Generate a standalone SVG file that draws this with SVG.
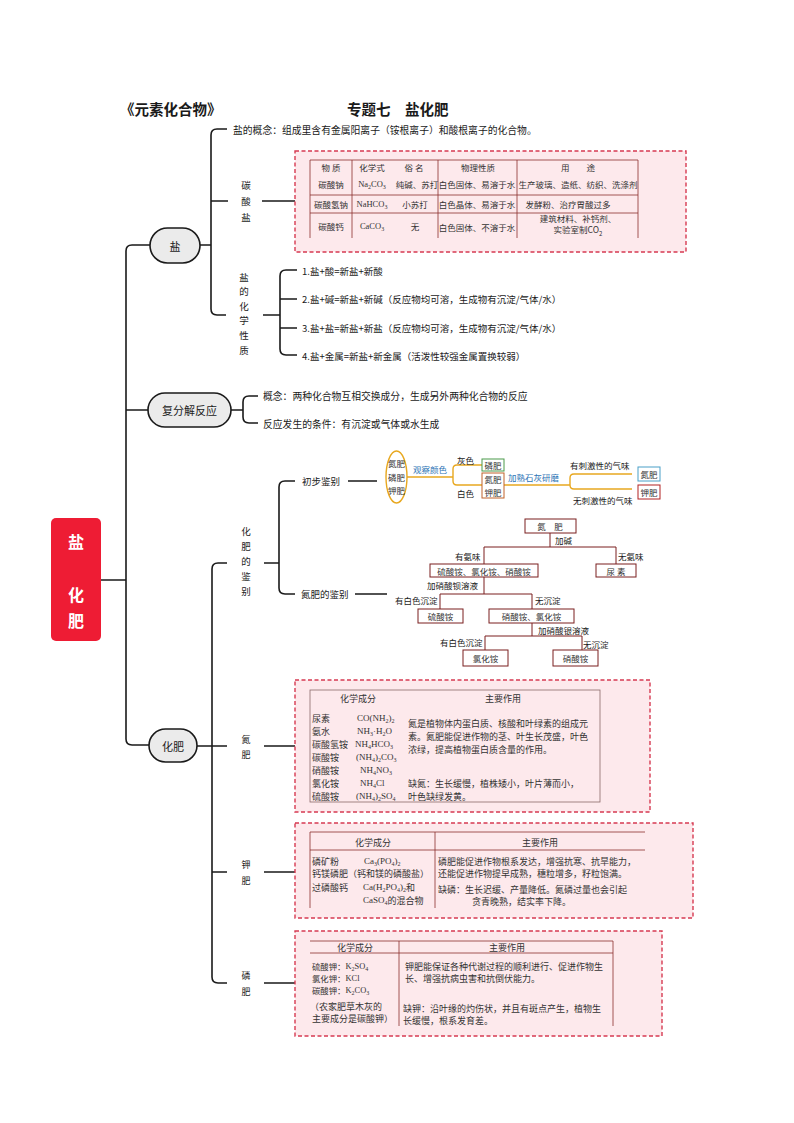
<svg xmlns="http://www.w3.org/2000/svg" width="794" height="1123" viewBox="0 0 794 1123">
<style>
text{font-family:"Noto Sans CJK SC","Noto Sans",sans-serif;fill:#1a1a1a;dominant-baseline:central}
.ser{font-family:"Liberation Serif","Noto Sans CJK SC",serif}
.f95{font-size:9.5px}.f98{font-size:9.8px}.f9{font-size:9px}.f85{font-size:8.5px}.f8{font-size:8.4px}
.g{fill:#333}
.sb{font-size:6px}
.ln{fill:none;stroke:#1a1a1a;stroke-width:1.6}
.gl{fill:none;stroke:#e8a820;stroke-width:1.4}
.tr{fill:none;stroke:#7a1f1f;stroke-width:1}
.bx{fill:#fff;stroke:#7a1f1f;stroke-width:1}
.pill{fill:#ebebeb;stroke:#1a1a1a;stroke-width:1.6}
.dash{fill:#fde9ec;stroke:#d63a52;stroke-width:1.4;stroke-dasharray:4 2.5}
.tb{fill:none;stroke:#8b2f2f;stroke-width:0.8}
.blue{fill:#2e75b6}
</style>
<rect width="794" height="1123" fill="#fff"/>
<g id="title">
<text x="120" y="108" style="font-size:14.5px;font-weight:bold">《元素化合物》</text>
<text x="347" y="108" style="font-size:14.5px;font-weight:bold">专题七　盐化肥</text>
</g>
<g id="connectors">
<path class="ln" d="M101,580 H126 M150,245 H132 Q126,245 126,251 V739 Q126,745 132,745 H150 M126,410 H150"/>
<path class="ln" d="M200,245 H211 M227,129 H217 Q211,129 211,135 V309 Q211,315 217,315 H226 M211,201 H228"/>
<path class="ln" d="M262,201 H295 M263,315 H280 M297,270 H286 Q280,270 280,276 V349 Q280,355 286,355 H297 M280,299 H297 M280,328 H297"/>
<path class="ln" d="M231,410 H243 M258,396 H249 Q243,396 243,402 V417 Q243,423 249,423 H258"/>
<path class="ln" d="M197,746 H212 M227,563 H218 Q212,563 212,569 V977 Q212,983 218,983 H227 M212,746 H227 M212,872 H227"/>
<path class="ln" d="M264,563 H279 M295,481 H285 Q279,481 279,487 V588 Q279,594 285,594 H295"/>
<path class="ln" d="M264,746 H295 M264,872 H295 M264,983 H295 M348,481 H377 M355,594 H387"/>
<path class="gl" d="M407,477 H453 M482,465 H457 Q453,465 453,469 V481 Q453,485 457,485 H482 M504,485 H570 M632,474 H574 Q570,474 570,478 V485 Q570,489 574,489 H632"/>
<path class="tr" d="M550,533 V547 M484,564 V547 H616 V564 M484,577 V594 M440,609 V594 H532 V609 M532,623 V636 M485,650 V636 H582 V650"/>
</g>
<g id="root">
<rect x="51" y="518" width="50" height="123" rx="5" fill="#ee1c34"/>
<text x="76" y="541" text-anchor="middle" style="font-size:16px;font-weight:bold;fill:#fff">盐</text>
<text x="76" y="594" text-anchor="middle" style="font-size:16px;font-weight:bold;fill:#fff">化</text>
<text x="76" y="620" text-anchor="middle" style="font-size:16px;font-weight:bold;fill:#fff">肥</text>
</g>
<g id="node-yan">
<rect class="pill" x="150" y="228" width="50" height="35" rx="17.5"/>
<text x="175" y="245.5" text-anchor="middle" style="font-size:11px">盐</text>
</g>
<g id="node-fufenjie">
<rect class="pill" x="148" y="393" width="83" height="34" rx="17"/>
<text x="189.5" y="410" text-anchor="middle" style="font-size:11px">复分解反应</text>
</g>
<g id="node-huafei">
<rect class="pill" x="149" y="729" width="48" height="33" rx="16.5"/>
<text x="173" y="745.5" text-anchor="middle" style="font-size:11px">化肥</text>
</g>
<g id="salt-concept">
<text x="233" y="130" class="f98">盐的概念：组成里含有金属阳离子（铵根离子）和酸根离子的化合物。</text>
</g>
<g id="carbonate-label">
<text x="246" y="185" text-anchor="middle" class="f95">碳</text>
<text x="246" y="201" text-anchor="middle" class="f95">酸</text>
<text x="246" y="217" text-anchor="middle" class="f95">盐</text>
</g>
<g id="carbonate-table">
<rect class="dash" x="295" y="151" width="391" height="101"/>
<path class="tb" d="M310,160 H638 M310,195 H638 M310,213 H638 M310,160 V238 M352,160 V238 M438,160 V238 M517,160 V238 M638,160 V238"/>
<text x="331" y="167" text-anchor="middle" class="f85 g">物 质</text>
<text x="372" y="167" text-anchor="middle" class="f85 g">化学式</text>
<text x="414" y="167" text-anchor="middle" class="f85 g">俗 名</text>
<text x="478" y="167" text-anchor="middle" class="f85 g">物理性质</text>
<text x="578" y="167" text-anchor="middle" class="f85 g">用　　途</text>
<text x="331" y="184" text-anchor="middle" class="f85 g">碳酸钠</text>
<text x="372" y="184" text-anchor="middle" class="f85 g ser">Na<tspan class="sb" baseline-shift="sub">2</tspan>CO<tspan class="sb" baseline-shift="sub">3</tspan></text>
<text x="417" y="184" text-anchor="middle" class="f85 g">纯碱、苏打</text>
<text x="477" y="184" text-anchor="middle" class="f85 g">白色固体、易溶于水</text>
<text x="578" y="184" text-anchor="middle" class="f85 g">生产玻璃、造纸、纺织、洗涤剂</text>
<text x="331" y="204" text-anchor="middle" class="f85 g">碳酸氢钠</text>
<text x="372" y="204" text-anchor="middle" class="f85 g ser">NaHCO<tspan class="sb" baseline-shift="sub">3</tspan></text>
<text x="415" y="204" text-anchor="middle" class="f85 g">小苏打</text>
<text x="477" y="204" text-anchor="middle" class="f85 g">白色晶体、易溶于水</text>
<text x="568" y="204" text-anchor="middle" class="f85 g">发酵粉、治疗胃酸过多</text>
<text x="331" y="226" text-anchor="middle" class="f85 g">碳酸钙</text>
<text x="372" y="226" text-anchor="middle" class="f85 g ser">CaCO<tspan class="sb" baseline-shift="sub">3</tspan></text>
<text x="415" y="226" text-anchor="middle" class="f85 g">无</text>
<text x="477" y="227" text-anchor="middle" class="f85 g">白色固体、不溶于水</text>
<text x="578" y="218" text-anchor="middle" class="f85 g">建筑材料、补钙剂、</text>
<text x="578" y="229" text-anchor="middle" class="f85 g">实验室制CO<tspan class="sb" baseline-shift="sub">2</tspan></text>
</g>
<g id="chem-props-label">
<text x="244" y="277" text-anchor="middle" class="f95">盐</text>
<text x="244" y="291" text-anchor="middle" class="f95">的</text>
<text x="244" y="306" text-anchor="middle" class="f95">化</text>
<text x="244" y="320" text-anchor="middle" class="f95">学</text>
<text x="244" y="335" text-anchor="middle" class="f95">性</text>
<text x="244" y="350" text-anchor="middle" class="f95">质</text>
</g>
<g id="chem-props">
<text x="302" y="271" class="f95">1.盐+酸=新盐+新酸</text>
<text x="302" y="299" class="f95">2.盐+碱=新盐+新碱（反应物均可溶，生成物有沉淀/气体/水）</text>
<text x="302" y="328" class="f95">3.盐+盐=新盐+新盐（反应物均可溶，生成物有沉淀/气体/水）</text>
<text x="302" y="356" class="f95">4.盐+金属=新盐+新金属（活泼性较强金属置换较弱）</text>
</g>
<g id="fufenjie-items">
<text x="263" y="396" class="f98">概念：两种化合物互相交换成分，生成另外两种化合物的反应</text>
<text x="263" y="424" class="f98">反应发生的条件：有沉淀或气体或水生成</text>
</g>
<g id="identify-label">
<text x="246" y="531" text-anchor="middle" class="f95">化</text>
<text x="246" y="546" text-anchor="middle" class="f95">肥</text>
<text x="246" y="561" text-anchor="middle" class="f95">的</text>
<text x="246" y="576" text-anchor="middle" class="f95">鉴</text>
<text x="246" y="591" text-anchor="middle" class="f95">别</text>
</g>
<g id="prelim">
<text x="302" y="481" class="f95">初步鉴别</text>
<ellipse cx="396.5" cy="477" rx="10.5" ry="26" fill="#fff" stroke="#e8a820" stroke-width="1.4"/>
<text x="396.5" y="463" text-anchor="middle" class="f85 g">氮肥</text>
<text x="396.5" y="477" text-anchor="middle" class="f85 g">磷肥</text>
<text x="396.5" y="490" text-anchor="middle" class="f85 g">钾肥</text>
<text x="413" y="469" class="f85 blue">观察颜色</text>
<text x="457" y="460" class="f85">灰色</text>
<text x="457" y="493" class="f85">白色</text>
<rect x="482" y="459" width="22" height="12" fill="#fff" stroke="#4a9a4a" stroke-width="1"/>
<text x="493" y="465" text-anchor="middle" class="f85 g">磷肥</text>
<rect x="482" y="473" width="22" height="25" fill="#fff" stroke="#c0622a" stroke-width="1"/>
<text x="493" y="479" text-anchor="middle" class="f85 g">氮肥</text>
<text x="493" y="492" text-anchor="middle" class="f85 g">钾肥</text>
<text x="508" y="477" class="f85 blue">加熟石灰研磨</text>
<text x="570" y="465" class="f85">有刺激性的气味</text>
<text x="573" y="500" class="f85">无刺激性的气味</text>
<rect x="638" y="467" width="22" height="14" fill="#fff" stroke="#4aa0c8" stroke-width="1"/>
<text x="649" y="474" text-anchor="middle" class="f85 g">氮肥</text>
<rect x="638" y="485" width="22" height="14" fill="#fff" stroke="#b22222" stroke-width="1"/>
<text x="649" y="492" text-anchor="middle" class="f85 g">钾肥</text>
</g>
<g id="n-identify">
<text x="301" y="594" class="f95">氮肥的鉴别</text>
<rect class="bx" x="525" y="519" width="51" height="14"/>
<text x="550" y="526" text-anchor="middle" class="f85 g">氮　肥</text>
<text x="555" y="540" class="f85">加碱</text>
<text x="455" y="556" class="f85">有氨味</text>
<text x="618" y="556" class="f85">无氨味</text>
<rect class="bx" x="430" y="564" width="108" height="13"/>
<text x="484" y="570.5" text-anchor="middle" class="f85 g">硫酸铵、氯化铵、硝酸铵</text>
<rect class="bx" x="596" y="564" width="40" height="13"/>
<text x="616" y="570.5" text-anchor="middle" class="f85 g">尿 素</text>
<text x="427" y="585" class="f85">加硝酸钡溶液</text>
<text x="395" y="600" class="f85">有白色沉淀</text>
<text x="535" y="600" class="f85">无沉淀</text>
<rect class="bx" x="418" y="609" width="45" height="14"/>
<text x="440.5" y="616" text-anchor="middle" class="f85 g">硫酸铵</text>
<rect class="bx" x="489" y="609" width="85" height="14"/>
<text x="531.5" y="616" text-anchor="middle" class="f85 g">硝酸铵、氯化铵</text>
<text x="538" y="630" class="f85">加硝酸银溶液</text>
<text x="440" y="642" class="f85">有白色沉淀</text>
<text x="583" y="644" class="f85">无沉淀</text>
<rect class="bx" x="463" y="650" width="45" height="16"/>
<text x="485.5" y="658" text-anchor="middle" class="f85 g">氯化铵</text>
<rect class="bx" x="553" y="650" width="45" height="16"/>
<text x="575.5" y="658" text-anchor="middle" class="f85 g">硝酸铵</text>
</g>
<g id="n-label">
<text x="246" y="739" text-anchor="middle" class="f9">氮</text>
<text x="246" y="754" text-anchor="middle" class="f9">肥</text>
</g>
<g id="n-table">
<rect class="dash" x="295" y="680" width="355" height="132"/>
<rect x="310" y="690" width="290" height="112" fill="none" stroke="#8a6a6a" stroke-width="0.8"/>
<text x="358" y="698" text-anchor="middle" class="f9 g">化学成分</text>
<text x="503" y="698" text-anchor="middle" class="f9 g">主要作用</text>
<text x="312" y="718" class="f9 g">尿素</text>
<text x="312" y="731" class="f9 g">氨水</text>
<text x="312" y="744" class="f9 g">碳酸氢铵</text>
<text x="312" y="757" class="f9 g">碳酸铵</text>
<text x="312" y="770" class="f9 g">硝酸铵</text>
<text x="312" y="783" class="f9 g">氯化铵</text>
<text x="312" y="796" class="f9 g">硫酸铵</text>
<text x="357" y="718" class="f9 g ser">CO(NH<tspan class="sb" baseline-shift="sub">2</tspan>)<tspan class="sb" baseline-shift="sub">2</tspan></text>
<text x="357" y="731" class="f9 g ser">NH<tspan class="sb" baseline-shift="sub">3</tspan>·H<tspan class="sb" baseline-shift="sub">2</tspan>O</text>
<text x="355" y="744" class="f9 g ser">NH<tspan class="sb" baseline-shift="sub">4</tspan>HCO<tspan class="sb" baseline-shift="sub">3</tspan></text>
<text x="356" y="757" class="f9 g ser">(NH<tspan class="sb" baseline-shift="sub">4</tspan>)<tspan class="sb" baseline-shift="sub">2</tspan>CO<tspan class="sb" baseline-shift="sub">3</tspan></text>
<text x="360" y="770" class="f9 g ser">NH<tspan class="sb" baseline-shift="sub">4</tspan>NO<tspan class="sb" baseline-shift="sub">3</tspan></text>
<text x="360" y="783" class="f9 g ser">NH<tspan class="sb" baseline-shift="sub">4</tspan>Cl</text>
<text x="356" y="796" class="f9 g ser">(NH<tspan class="sb" baseline-shift="sub">4</tspan>)<tspan class="sb" baseline-shift="sub">2</tspan>SO<tspan class="sb" baseline-shift="sub">4</tspan></text>
<text x="408" y="723" class="f9 g">氮是植物体内蛋白质、核酸和叶绿素的组成元</text>
<text x="408" y="736" class="f9 g">素。氮肥能促进作物的茎、叶生长茂盛，叶色</text>
<text x="408" y="749" class="f9 g">浓绿，提高植物蛋白质含量的作用。</text>
<text x="408" y="783" class="f9 g">缺氮：生长缓慢，植株矮小，叶片薄而小，</text>
<text x="408" y="796" class="f9 g">叶色缺绿发黄。</text>
</g>
<g id="k-label">
<text x="246" y="864" text-anchor="middle" class="f9">钾</text>
<text x="246" y="880" text-anchor="middle" class="f9">肥</text>
</g>
<g id="p-table">
<rect class="dash" x="295" y="823" width="398" height="95"/>
<path class="tb" d="M310,832 H645 M310,850 H645 M310,832 V908 M435,832 V908"/>
<text x="373" y="842" text-anchor="middle" class="f9 g">化学成分</text>
<text x="540" y="842" text-anchor="middle" class="f9 g">主要作用</text>
<text x="312" y="861" class="f9 g">磷矿粉</text>
<text x="364" y="861" class="f9 g ser">Ca<tspan class="sb" baseline-shift="sub">3</tspan>(PO<tspan class="sb" baseline-shift="sub">4</tspan>)<tspan class="sb" baseline-shift="sub">2</tspan></text>
<text x="312" y="873" class="f9 g">钙镁磷肥（钙和镁的磷酸盐）</text>
<text x="312" y="887" class="f9 g">过磷酸钙</text>
<text x="363" y="887" class="f9 g"><tspan class="ser">Ca(H<tspan class="sb" baseline-shift="sub">2</tspan>PO<tspan class="sb" baseline-shift="sub">4</tspan>)<tspan class="sb" baseline-shift="sub">2</tspan></tspan>和</text>
<text x="363" y="900" class="f9 g"><tspan class="ser">CaSO<tspan class="sb" baseline-shift="sub">4</tspan></tspan>的混合物</text>
<text x="438" y="861" class="f9 g">磷肥能促进作物根系发达，增强抗寒、抗旱能力，</text>
<text x="438" y="873" class="f9 g">还能促进作物提早成熟，穗粒增多，籽粒饱满。</text>
<text x="438" y="889" class="f9 g">缺磷：生长迟缓、产量降低。氮磷过量也会引起</text>
<text x="472" y="901" class="f9 g">贪青晚熟，结实率下降。</text>
</g>
<g id="p-label">
<text x="246" y="975" text-anchor="middle" class="f9">磷</text>
<text x="246" y="991" text-anchor="middle" class="f9">肥</text>
</g>
<g id="k-table">
<rect class="dash" x="295" y="931" width="367" height="105"/>
<path class="tb" d="M310,941 H613 M310,953 H613 M399,941 V1026 M613,941 V1026"/>
<text x="355" y="947" text-anchor="middle" class="f9 g">化学成分</text>
<text x="507" y="947" text-anchor="middle" class="f9 g">主要作用</text>
<text x="312" y="966" class="f8 g">硫酸钾：<tspan class="ser">K<tspan class="sb" baseline-shift="sub">2</tspan>SO<tspan class="sb" baseline-shift="sub">4</tspan></tspan></text>
<text x="312" y="978" class="f8 g">氯化钾：<tspan class="ser">KCl</tspan></text>
<text x="312" y="990" class="f8 g">碳酸钾：<tspan class="ser">K<tspan class="sb" baseline-shift="sub">2</tspan>CO<tspan class="sb" baseline-shift="sub">3</tspan></tspan></text>
<text x="310" y="1006" class="f9 g">（农家肥草木灰的</text>
<text x="312" y="1018" class="f9 g">主要成分是碳酸钾）</text>
<text x="405" y="966" class="f9 g">钾肥能保证各种代谢过程的顺利进行、促进作物生</text>
<text x="405" y="978" class="f9 g">长、增强抗病虫害和抗倒伏能力。</text>
<text x="403" y="1008" class="f9 g">缺钾：沿叶缘的灼伤状，并且有斑点产生，植物生</text>
<text x="403" y="1020" class="f9 g">长缓慢，根系发育差。</text>
</g>
</svg>
